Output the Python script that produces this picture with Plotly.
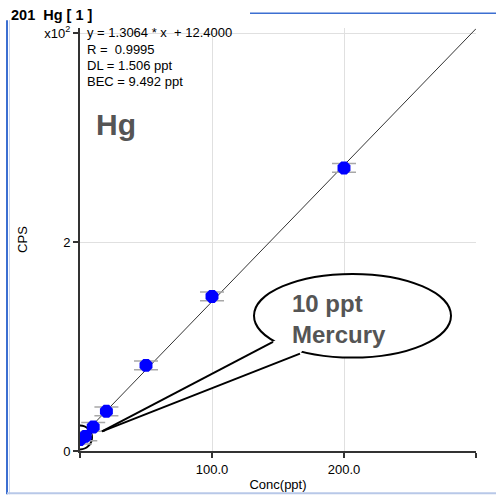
import plotly.graph_objects as go

# ---- data ----
conc = [0, 4, 10, 20, 50, 100, 200]
cps = [11, 14, 23, 38, 82, 148, 271]
cps_err = [4.2, 4.2, 4.2, 4.2, 4.2, 4.2, 4.2]
slope = 1.3064
intercept = 12.4
fit_x = [0, 300]
fit_y = [intercept + slope * v for v in fit_x]
x_tickvals = [100, 200]
x_ticktext = ["100.0", "200.0"]
y_tickvals = [0, 200, 400]
y_ticktext = ["0", "2", "x10<sup>2</sup>"]
stats_lines = ["y = 1.3064 * x  + 12.4000", "R =  0.9995", "DL = 1.506 ppt", "BEC = 9.492 ppt"]

W, H = 496, 502
L, R, T, B = 80, 476, 28, 458


def px(x):
    return (x - L) / (R - L)


def py(y):
    return (B - y) / (B - T)


FONT = "Liberation Sans, Arial, sans-serif"

fig = go.Figure()
fig.add_trace(go.Scatter(x=fit_x, y=fit_y, mode="lines",
                         line=dict(color="#333333", width=1), hoverinfo="skip"))
fig.add_trace(go.Scatter(x=[conc[0]], y=[13], mode="markers",
                         marker=dict(symbol="circle-open", size=24, color="#000000",
                                     line=dict(color="#000000", width=2))))
fig.add_trace(go.Scatter(
    x=conc, y=cps, mode="markers",
    marker=dict(symbol="octagon", size=14, color="#0000ff", line=dict(width=0)),
    error_y=dict(type="data", array=cps_err, color="#a8a8a8", thickness=1.5, width=12),
))

shapes = []
blue = "#3c6fd1"
shapes.append(dict(type="line", xref="paper", yref="paper", x0=px(7), x1=px(7), y0=py(20), y1=py(502),
                   line=dict(color=blue, width=2)))
shapes.append(dict(type="line", xref="paper", yref="paper", x0=px(9.5), x1=px(9.5), y0=py(20), y1=py(502),
                   line=dict(color="#c8d6f0", width=1)))
shapes.append(dict(type="line", xref="paper", yref="paper", x0=px(250), x1=px(500), y0=py(13), y1=py(13),
                   line=dict(color=blue, width=1.5)))
shapes.append(dict(type="line", xref="paper", yref="paper", x0=px(7), x1=px(500), y0=py(501), y1=py(501),
                   line=dict(color="#b8c8e8", width=2)))

# callout ellipse
shapes.append(dict(type="circle", xref="paper", yref="paper", x0=px(254), x1=px(451), y0=py(363), y1=py(278),
                   line=dict(color="#000000", width=2), fillcolor="#ffffff"))
# tail fill
tip = (102, 438)
j1 = (273, 347)
j2 = (300, 359)
pts = [tip, j1, (285, 340), (306, 352), j2]
path = "M " + " L ".join(f"{px(a):.5f},{py(b):.5f}" for a, b in pts) + " Z"
shapes.append(dict(type="path", xref="paper", yref="paper", path=path,
                   fillcolor="#ffffff", line=dict(width=0)))
for j in (j1, j2):
    shapes.append(dict(type="line", xref="paper", yref="paper", x0=px(tip[0]), y0=py(tip[1]),
                       x1=px(j[0]), y1=py(j[1]), line=dict(color="#000000", width=2)))

annotations = []
annotations.append(dict(xref="paper", yref="paper", x=px(9), y=py(15), text="<b>201  Hg [ 1 ]</b>",
                        showarrow=False, xanchor="left", yanchor="middle",
                        font=dict(family=FONT, size=14.5, color="#000000")))
for i, line in enumerate(stats_lines):
    annotations.append(dict(xref="paper", yref="paper", x=px(85), y=py(33 + 16.5 * i), text=line,
                            showarrow=False, xanchor="left", yanchor="middle",
                            font=dict(family=FONT, size=13, color="#000000")))
annotations.append(dict(xref="paper", yref="paper", x=px(94), y=py(126), text="<b>Hg</b>",
                        showarrow=False, xanchor="left", yanchor="middle",
                        font=dict(family=FONT, size=30, color="#555555")))
annotations.append(dict(xref="paper", yref="paper", x=px(290), y=py(308), text="<b>10 ppt</b>",
                        showarrow=False, xanchor="left", yanchor="middle",
                        font=dict(family=FONT, size=24, color="#555555")))
annotations.append(dict(xref="paper", yref="paper", x=px(290), y=py(340), text="<b>Mercury</b>",
                        showarrow=False, xanchor="left", yanchor="middle",
                        font=dict(family=FONT, size=24, color="#555555")))

fig.update_layout(
    width=W, height=H,
    margin=dict(l=L, r=W - R, t=T, b=H - B, pad=0),
    paper_bgcolor="#ffffff", plot_bgcolor="#ffffff",
    showlegend=False,
    shapes=shapes, annotations=annotations,
    font=dict(family=FONT, size=13, color="#000000"),
)
fig.update_xaxes(range=[0, 300], tickvals=x_tickvals, ticktext=x_ticktext,
                 showgrid=True, gridcolor="#e0e0e0", gridwidth=1,
                 showline=True, linecolor="#333333", linewidth=2,
                 ticks="outside", ticklen=5, tickcolor="#333333", tickwidth=1.5,
                 minor=dict(tick0=0, dtick=300, ticks="outside", ticklen=5,
                            tickcolor="#333333", tickwidth=1.5,
                            showgrid=True, gridcolor="#e0e0e0", gridwidth=1),
                 zeroline=False,
                 title=dict(text="Conc(ppt)", font=dict(family=FONT, size=13), standoff=4),
                 tickfont=dict(family=FONT, size=13))
fig.update_yaxes(range=[0, 405], tickvals=y_tickvals, ticktext=y_ticktext,
                 showgrid=True, gridcolor="#e0e0e0", gridwidth=1,
                 showline=True, linecolor="#333333", linewidth=2,
                 ticks="outside", ticklen=5, tickcolor="#333333", tickwidth=1.5,
                 zeroline=False,
                 title=dict(text="CPS", font=dict(family=FONT, size=13), standoff=14),
                 tickfont=dict(family=FONT, size=13))

fig.write_html("out.html")
